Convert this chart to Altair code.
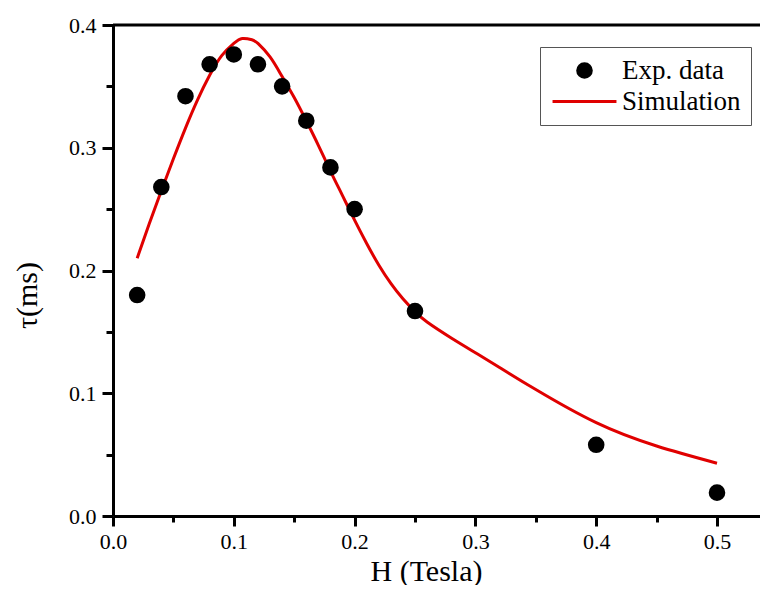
import altair as alt
import pandas as pd

# Experimental data
exp_h = [0.02, 0.04, 0.06, 0.08, 0.10, 0.12, 0.14, 0.16, 0.18, 0.20, 0.25, 0.40, 0.50]
exp_tau = [0.180, 0.268, 0.342, 0.368, 0.376, 0.368, 0.350, 0.322, 0.284, 0.250, 0.167, 0.058, 0.019]

# Simulation curve
sim_h = [0.02, 0.03, 0.04, 0.05, 0.06, 0.07, 0.08, 0.09, 0.10, 0.107, 0.115, 0.12, 0.13, 0.14,
         0.15, 0.16, 0.17, 0.18, 0.19, 0.20, 0.21, 0.22, 0.23, 0.24, 0.25, 0.26, 0.28, 0.30,
         0.32, 0.35, 0.40, 0.45, 0.50]
sim_tau = [0.210, 0.238, 0.265, 0.291, 0.316, 0.339, 0.359, 0.375, 0.385, 0.389, 0.388, 0.385,
           0.374, 0.358, 0.341, 0.322, 0.302, 0.281, 0.261, 0.241, 0.222, 0.2045, 0.1895, 0.177,
           0.1665, 0.158, 0.145, 0.133, 0.121, 0.103, 0.076, 0.057, 0.043]

series_names = ["Exp. data", "Simulation"]
x_major = [0.0, 0.1, 0.2, 0.3, 0.4, 0.5]
x_minor = [0.05, 0.15, 0.25, 0.35, 0.45]
y_major = [0.0, 0.1, 0.2, 0.3, 0.4]
y_minor = [0.05, 0.15, 0.25, 0.35]

exp_df = pd.DataFrame({"H": exp_h, "tau": exp_tau, "series": "Exp. data"})
sim_df = pd.DataFrame({"H": sim_h, "tau": sim_tau})

FONT = "Liberation Serif"
RED = "#e00000"

xscale = alt.Scale(domain=[0, 0.5356], nice=False, zero=False)
yscale = alt.Scale(domain=[0, 0.4], nice=False)

x_major_axis = alt.Axis(orient="bottom", values=x_major, format=".1f", tickSize=10, tickWidth=3,
                        domainWidth=3, labelFontSize=22, labelPadding=5, labelFlush=False,
                        title="H (Tesla)", titleFontSize=30, titleFont=FONT,
                        titleFontWeight="normal", titleX=313, titleY=64,
                        titleBaseline="alphabetic", titleAlign="center")
y_major_axis = alt.Axis(orient="left", values=y_major, format=".1f", tickSize=11, tickWidth=3,
                        domainWidth=3, labelFontSize=22, labelPadding=6, labelFlush=False,
                        title="τ(ms)", titleFontSize=30, titleFont=FONT, titleFontWeight="normal",
                        titleAngle=270, titleX=-86, titleY=270, titleAlign="center",
                        titleBaseline="middle")
x_minor_axis = alt.Axis(orient="bottom", values=x_minor, labels=False, tickSize=6, tickWidth=3,
                        domain=False, title=None)
y_minor_axis = alt.Axis(orient="left", values=y_minor, labels=False, tickSize=7, tickWidth=3,
                        domain=False, title=None)

legend = alt.Legend(orient="none", legendX=427, legendY=22, title=None,
                    labelFont=FONT, labelFontSize=27, labelColor="black", labelOffset=24,
                    symbolOffset=21, symbolSize=185,
                    padding=10, rowPadding=3, strokeColor="#555555", fillColor="white",
                    symbolStrokeWidth=3, labelLimit=300)

color_scale = alt.Scale(domain=series_names, range=["black", RED])

points = alt.Chart(exp_df).mark_point(filled=True, opacity=1, strokeWidth=3, size=185).encode(
    x=alt.X("H:Q", scale=xscale, axis=x_major_axis),
    y=alt.Y("tau:Q", scale=yscale, axis=y_major_axis),
    color=alt.Color("series:N", scale=color_scale, legend=legend),
    stroke=alt.Stroke("series:N", scale=color_scale, legend=legend),
    shape=alt.Shape("series:N",
                    scale=alt.Scale(domain=series_names, range=["circle", "M-4.7,0H4.7"]),
                    legend=legend),
)

line = alt.Chart(sim_df).mark_line(color=RED, strokeWidth=3, interpolate="natural").encode(
    x=alt.X("H:Q", scale=xscale, axis=x_minor_axis),
    y=alt.Y("tau:Q", scale=yscale, axis=y_minor_axis),
)

top_rule = alt.Chart(pd.DataFrame({"v": [0.4]})).mark_rule(color="black", strokeWidth=3).encode(
    y=alt.Y("v:Q", scale=yscale, axis=None)
)

chart = alt.layer(line, points, top_rule).resolve_axis(x="independent", y="independent").properties(
    width=647, height=491,
    autosize=alt.AutoSizeParams(type="none"),
    padding={"left": 105, "top": 17, "right": 0, "bottom": 69},
).configure_view(stroke=None).configure_axis(
    labelFont=FONT, labelColor="black", tickColor="black", domainColor="black",
    titleColor="black", grid=False
)

chart.save("out.html", embed_options={"renderer": "svg", "actions": False})
